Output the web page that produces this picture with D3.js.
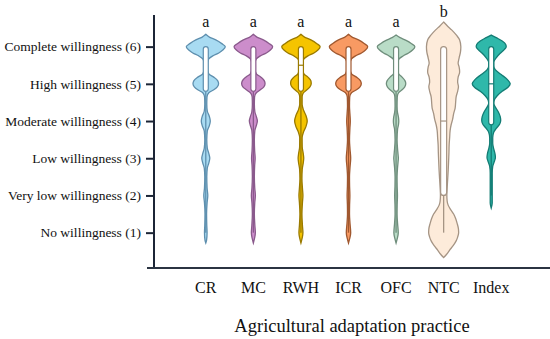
<!DOCTYPE html>
<meta charset="utf-8">
<head>
    <title>Willingness by adaptation practice</title>
    <script type="text/javascript" src="https://cdn.jsdelivr.net/npm/d3@7/dist/d3.min.js"></script>
    <style>
        body { margin: 0; background: white; }
        text { font-family: "Liberation Serif", "Times New Roman", serif; fill: #111; }
    </style>
</head>
<body>
<script>
    // categories and labels
    const practices = ["CR", "MC", "RWH", "ICR", "OFC", "NTC", "Index"]
    const levelValues = [1, 2, 3, 4, 5, 6]
    const levelLabels = ["No willingness (1)", "Very low willingness (2)", "Low willingness (3)",
        "Moderate willingness (4)", "High willingness (5)", "Complete willingness (6)"]
    const groupLetters = ["a", "a", "a", "a", "a", "b", ""]

    const fills = ["#a8dbf2", "#cc8dcb", "#f5c400", "#f89a63", "#b9dcc7", "#fdebda", "#2fb8aa"]
    const strokes = ["#5e8fae", "#8a5a8c", "#9a7a00", "#a0582f", "#6f8e7c", "#a59484", "#137c74"]

    // box summaries (willingness score)
    const q1 = [4.8, 4.8, 4.8, 4.8, 4.8, 2, 3.9]
    const q3 = [6, 6, 6, 6, 6, 6, 6]
    const medians = [6, 6, 5.5, 6, 6, 4, 5]
    const whiskerLow = [1, 1, 1, 1, 1, 1, 2]

    // violin density profiles: [score, density]
    const densityCR = [[6.33,0],[6.25,4],[6.18,10],[6.08,16],[6.0,19.5],[5.91,17],[5.83,13],[5.75,7],[5.67,3],[5.55,1.5],[5.4,1.5],[5.27,3],[5.18,8],[5.08,12],[5.0,12.8],[4.92,11.5],[4.84,8],[4.76,3],[4.65,1.2],[4.45,1],[4.27,1.5],[4.13,3.5],[4.0,4.5],[3.87,3.5],[3.73,1.5],[3.5,1],[3.27,1.5],[3.13,3],[3.0,4],[2.87,3],[2.73,1.5],[2.5,1],[2.2,1.3],[2.0,2],[1.8,1.3],[1.5,0.8],[1.2,1],[1.0,1.3],[0.8,0.8],[0.72,0]]
    const densityMC = [[6.33,0],[6.25,4],[6.18,10],[6.08,16],[6.0,19.3],[5.91,17],[5.83,13],[5.75,7],[5.67,3],[5.55,1.5],[5.4,1.5],[5.27,3],[5.18,7.5],[5.08,11],[5.0,11.7],[4.92,10.5],[4.84,7],[4.76,3],[4.65,1.2],[4.45,1],[4.25,1.5],[4.12,3],[4.0,4],[3.88,3],[3.75,1.5],[3.5,1],[3.2,1.3],[3.0,1.8],[2.8,1.3],[2.5,1],[2.2,1.4],[2.0,2],[1.8,1.4],[1.5,1],[1.2,1.5],[1.0,2],[0.85,1.2],[0.72,0]]
    const densityRWH = [[6.33,0],[6.25,4],[6.18,10],[6.08,16],[6.0,19.2],[5.91,17],[5.83,13],[5.75,7],[5.67,3],[5.55,1.5],[5.4,1.5],[5.27,3],[5.18,7],[5.08,10],[5.0,10.3],[4.92,9],[4.84,6],[4.76,2.5],[4.65,1.2],[4.45,1.2],[4.3,2.5],[4.15,5],[4.0,6.3],[3.85,5],[3.7,2.5],[3.55,1.2],[3.3,1.3],[3.13,2.3],[3.0,2.8],[2.87,2.3],[2.7,1.3],[2.45,1],[2.2,1.5],[2.0,2],[1.8,1.5],[1.5,1],[1.2,1.5],[1.0,2],[0.85,1.2],[0.72,0]]
    const densityICR = [[6.33,0],[6.25,4],[6.18,10],[6.08,16],[6.0,19.2],[5.91,17],[5.83,13],[5.75,7],[5.67,3],[5.55,1.5],[5.4,1.5],[5.27,3],[5.18,8],[5.08,12],[5.0,12.8],[4.92,11.5],[4.84,8],[4.76,3],[4.65,1.2],[4.4,1],[4.2,1.4],[4.0,1.8],[3.8,1.4],[3.5,1],[3.25,1.5],[3.0,2.2],[2.75,1.5],[2.5,1],[2.25,1.1],[2.0,1.4],[1.75,1.1],[1.5,1],[1.25,1.5],[1.0,2.2],[0.85,1.3],[0.72,0]]
    const densityOFC = [[6.31,0],[6.24,4],[6.17,10],[6.08,15.5],[6.0,18.8],[5.91,16.5],[5.83,12.5],[5.75,7],[5.67,3],[5.55,1.5],[5.4,1.5],[5.27,2.5],[5.18,6],[5.08,9],[5.0,9.7],[4.92,8.7],[4.84,6],[4.76,2.5],[4.65,1.2],[4.4,1],[4.22,1.5],[4.1,2.4],[4.0,2.7],[3.9,2.4],[3.78,1.5],[3.5,1],[3.25,1.5],[3.1,2],[3.0,2.3],[2.9,2],[2.75,1.5],[2.5,1],[2.25,1.1],[2.0,1.4],[1.75,1.1],[1.5,1],[1.25,1.5],[1.0,2.2],[0.85,1.3],[0.72,0]]
    const densityNTC = [[6.66,0],[6.55,4],[6.45,8],[6.3,13],[6.18,16],[6.0,17.2],[5.85,16.8],[5.7,15.5],[5.55,14.5],[5.45,15.5],[5.32,16],[5.18,14.5],[5.05,14],[4.92,14.8],[4.8,14],[4.65,12.5],[4.5,12],[4.35,11.5],[4.2,10],[4.05,9],[3.9,7.5],[3.75,6.5],[3.55,6],[3.36,5.5],[3.15,5.3],[2.95,5],[2.7,4.6],[2.42,4],[2.2,3.5],[2.01,3.2],[1.85,3.5],[1.74,4.5],[1.62,7],[1.5,10],[1.38,12],[1.25,13.5],[1.1,14.8],[1.0,15],[0.88,14],[0.78,12.5],[0.65,9.5],[0.53,6],[0.42,3],[0.33,0]]
    const densityIndex = [[6.31,0],[6.24,5],[6.15,11],[6.06,14.5],[6.0,15],[5.92,13],[5.82,9],[5.7,5],[5.58,2.5],[5.48,2.5],[5.38,4],[5.25,10],[5.12,16],[5.0,19],[4.9,16.5],[4.8,11],[4.68,6],[4.56,3],[4.48,2.5],[4.38,4],[4.25,7],[4.12,9],[4.02,9.5],[3.92,8.5],[3.8,5],[3.7,2.5],[3.55,1.5],[3.4,1.5],[3.25,2.5],[3.12,3.8],[3.02,4.2],[2.92,3.2],[2.78,1.5],[2.6,1],[2.2,1],[1.8,1],[1.66,0]]
    const densities = [densityCR, densityMC, densityRWH, densityICR, densityOFC, densityNTC, densityIndex]

    // svg
    const w = 550, h = 339
    const margin = {top: 15, right: 0, bottom: 71, left: 154}

    const svg = d3.select("body").append("svg")
        .attr("width", w)
        .attr("height", h)

    const y = d3.scaleLinear().domain([0.05, 6.85]).range([h - margin.bottom, margin.top])
    const x = d3.scaleBand().domain(practices).range([182, 515]).paddingInner(0)
    const dens = d3.scaleLinear().domain([0, 20]).range([0, 20])

    // violins
    const g = svg.append("g")
    practices.forEach(function (p, i) {
        const xc = x(p) + x.bandwidth() / 2
        const area = d3.area()
            .y(d => y(d[0]))
            .x0(d => xc - dens(d[1]))
            .x1(d => xc + dens(d[1]))
            .curve(d3.curveMonotoneY)

        g.append("path")
            .attr("d", area(densities[i]))
            .attr("fill", fills[i])
            .attr("stroke", strokes[i])
            .attr("stroke-width", 1.3)

        // whisker
        g.append("line")
            .attr("x1", xc).attr("x2", xc)
            .attr("y1", y(q1[i])).attr("y2", y(whiskerLow[i]))
            .attr("stroke", strokes[i])
            .attr("stroke-width", 1.3)

        // box
        const bw = p === "NTC" ? 6 : 5
        g.append("rect")
            .attr("x", xc - bw / 2)
            .attr("width", bw)
            .attr("y", y(q3[i]))
            .attr("height", y(q1[i]) - y(q3[i]))
            .attr("rx", bw / 2)
            .attr("fill", "white")
            .attr("stroke", strokes[i])
            .attr("stroke-width", 1.2)

        if (medians[i] < q3[i]) {
            g.append("line")
                .attr("x1", xc - bw / 2).attr("x2", xc + bw / 2)
                .attr("y1", y(medians[i])).attr("y2", y(medians[i]))
                .attr("stroke", strokes[i])
                .attr("stroke-width", 1.2)
        }

        // significance letter
        if (groupLetters[i] !== "") {
            const top = d3.max(densities[i], d => d[0])
            svg.append("text")
                .attr("x", xc)
                .attr("y", Math.min(27, y(top) - 5))
                .attr("text-anchor", "middle")
                .attr("font-size", 16)
                .text(groupLetters[i])
        }
    })

    // y axis
    const yAxis = d3.axisLeft(y)
        .tickValues(levelValues)
        .tickFormat((d, i) => levelLabels[i])
        .tickSize(8)
        .tickSizeOuter(0)
        .tickPadding(5)

    const yg = svg.append("g")
        .attr("transform", "translate(" + margin.left + ",0)")
        .call(yAxis)
    yg.select(".domain").remove()
    yg.selectAll(".tick line").attr("stroke", "#1c2536").attr("stroke-width", 2)
    yg.selectAll(".tick text").attr("font-size", 13.5).attr("fill", "#111")

    yg.append("line")
        .attr("x1", 0).attr("x2", 0)
        .attr("y1", margin.top).attr("y2", h - margin.bottom + 1)
        .attr("stroke", "#1c2536")
        .attr("stroke-width", 2)

    // x axis
    const xAxis = d3.axisBottom(x).tickSize(0).tickSizeOuter(0).tickPadding(14)
    const xg = svg.append("g")
        .attr("transform", "translate(0," + (h - margin.bottom) + ")")
        .call(xAxis)
    xg.select(".domain").remove()
    xg.selectAll(".tick text").attr("font-size", 16).attr("fill", "#111")

    xg.append("line")
        .attr("x1", margin.left - 7).attr("x2", w)
        .attr("y1", 0).attr("y2", 0)
        .attr("stroke", "#2b3442")
        .attr("stroke-width", 2)

    svg.append("text")
        .attr("x", (margin.left + w) / 2)
        .attr("y", 332)
        .attr("text-anchor", "middle")
        .attr("font-size", 18.5)
        .text("Agricultural adaptation practice")
</script>
</body>
</html>
